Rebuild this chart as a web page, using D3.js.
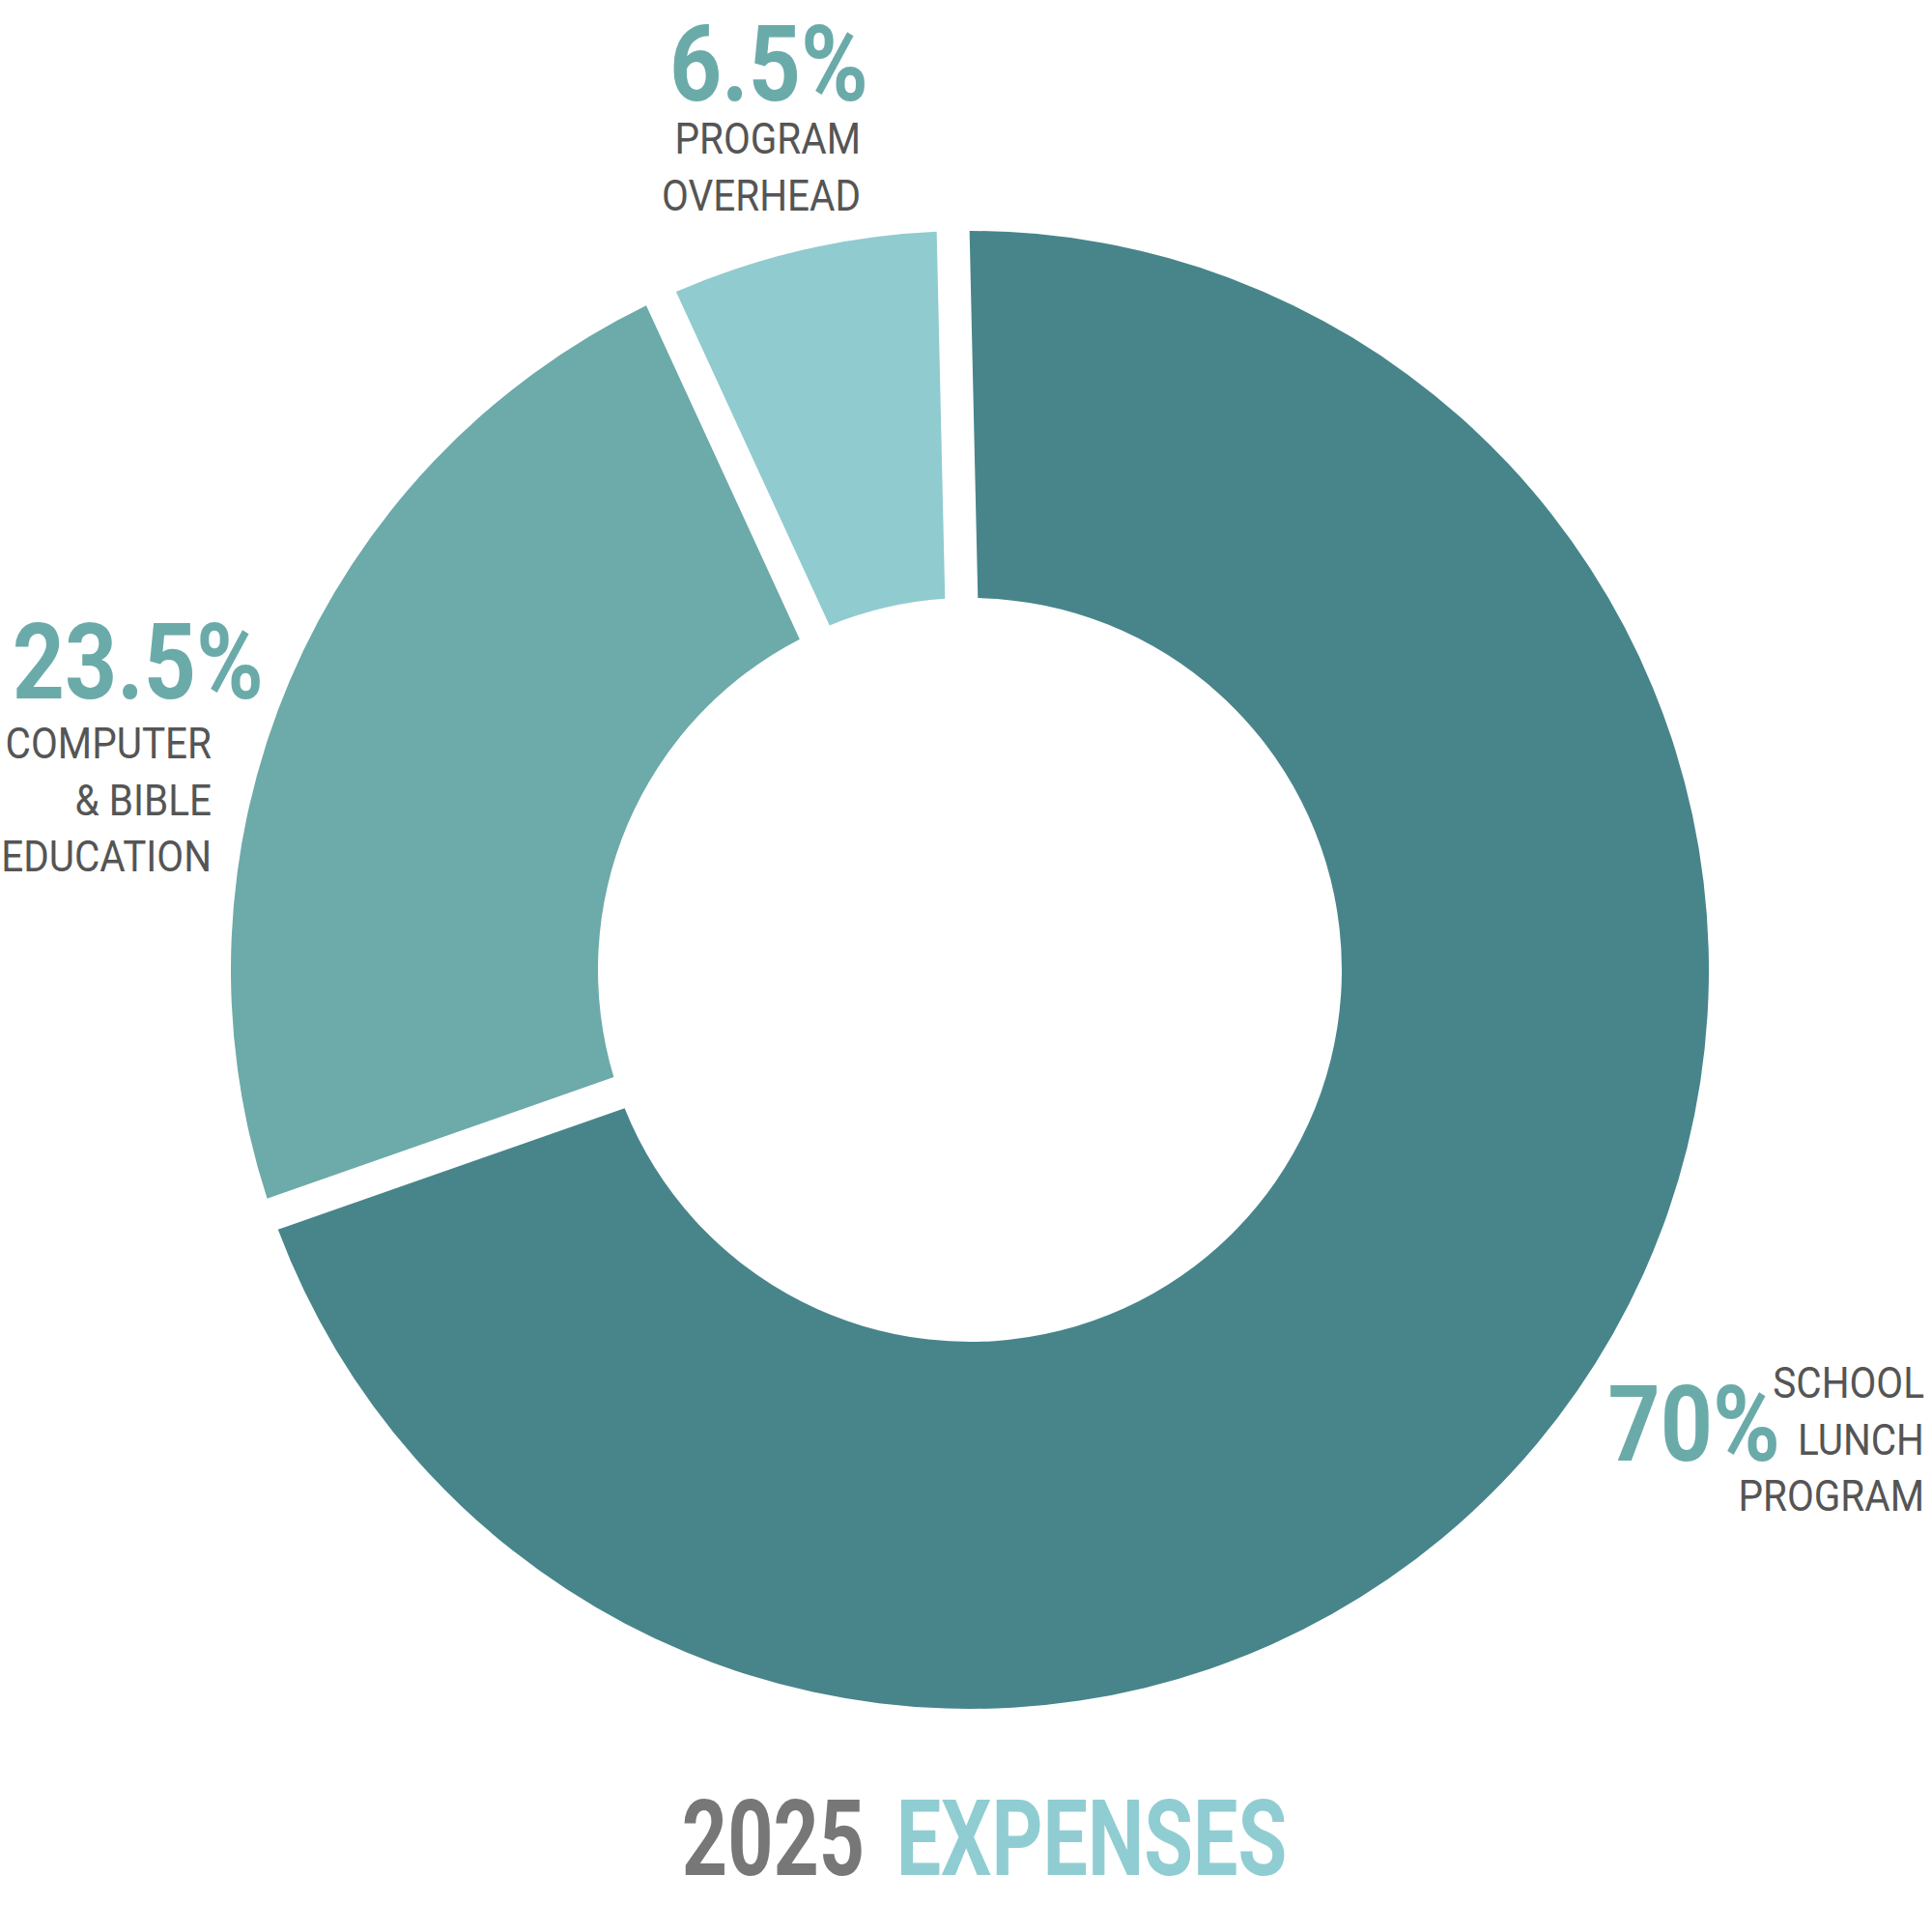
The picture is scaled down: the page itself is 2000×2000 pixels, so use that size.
<!DOCTYPE html>
<html>
<head>
<meta charset="utf-8">
<script src="https://cdn.jsdelivr.net/npm/d3@7"></script>
<style>
  body { margin: 0; background: #fff; }
  .pct { font-family: Roboto, sans-serif; font-weight: 700; fill: #6aabaa; }
  .label { font-family: Roboto, sans-serif; font-weight: 400; fill: #555; }
  .title { font-family: Roboto, sans-serif; font-weight: 700; }
</style>
</head>
<body>
<svg id="chart"></svg>
<script>
const categories = ['SCHOOL LUNCH PROGRAM', 'COMPUTER & BIBLE EDUCATION', 'PROGRAM OVERHEAD'];
const values = [70, 23.5, 6.5];
const percentLabels = ['70%', '23.5%', '6.5%'];
const labelLines = [
  ['SCHOOL', 'LUNCH', 'PROGRAM'],
  ['COMPUTER', '& BIBLE', 'EDUCATION'],
  ['PROGRAM', 'OVERHEAD']
];
const colors = ['#47858b', '#6daaaa', '#90cbd0'];
const titleYear = '2025';
const titleWord = 'EXPENSES';

const width = 2000;
const height = 2000;
const cx = 1004;
const cy = 1004;
const outer = 765;
const inner = 385;
const gap = 34;

const svg = d3.select('#chart')
  .attr('width', width)
  .attr('height', height);

const data = values.map((v, i) => ({
  name: categories[i],
  value: v,
  pct: percentLabels[i],
  lines: labelLines[i],
  color: colors[i]
}));

const start = -1.3 * Math.PI / 180;
const pie = d3.pie()
  .sort(null)
  .value(d => d.value)
  .startAngle(start)
  .endAngle(start + 2 * Math.PI);

const arc = d3.arc()
  .innerRadius(inner)
  .outerRadius(outer)
  .padRadius(outer)
  .padAngle(2 * Math.asin((gap / 2) / outer));

const g = svg.append('g')
  .attr('transform', `translate(${cx}, ${cy})`);

g.selectAll('path')
  .data(pie(data))
  .enter()
  .append('path')
  .attr('d', arc)
  .attr('fill', d => d.data.color);

// label placement, one entry per slice
const layout = [
  { pctX: 1843, pctY: 1512, lineX: 1992, lineY: 1447 },
  { pctX: 273, pctY: 723, lineX: 219, lineY: 785 },
  { pctX: 899, pctY: 104, lineX: 891, lineY: 159 }
];
const lineStep = 58.5;
const pctScale = 0.86;
const labelScale = 0.92;

data.forEach((d, i) => {
  const p = layout[i];
  svg.append('text')
    .attr('class', 'pct')
    .attr('transform', `translate(${p.pctX}, ${p.pctY}) scale(${pctScale}, 1)`)
    .attr('text-anchor', 'end')
    .style('font-size', '110px')
    .text(d.pct);

  d.lines.forEach((line, j) => {
    svg.append('text')
      .attr('class', 'label')
      .attr('transform', `translate(${p.lineX}, ${p.lineY + j * lineStep}) scale(${labelScale}, 1)`)
      .attr('text-anchor', 'end')
      .style('font-size', '44px')
      .text(line);
  });
});

const title = svg.append('text')
  .attr('class', 'title')
  .attr('transform', `translate(1019, 1941) scale(0.75, 1)`)
  .attr('text-anchor', 'middle')
  .style('font-size', '110px');

title.append('tspan')
  .attr('fill', '#777')
  .text(titleYear + ' ');

title.append('tspan')
  .attr('fill', '#90cdd2')
  .attr('dx', 16)
  .text(titleWord);
</script>
</body>
</html>
